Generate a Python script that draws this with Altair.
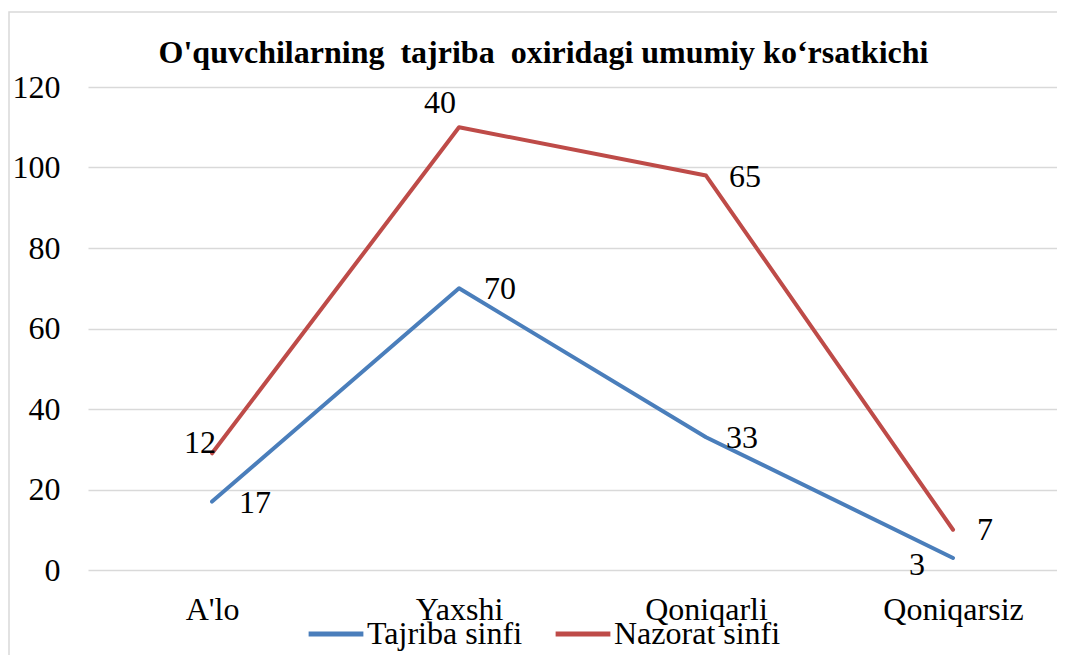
import altair as alt
import pandas as pd

categories = ["A'lo", "Yaxshi", "Qoniqarli", "Qoniqarsiz"]
tajriba = [17, 70, 33, 3]
nazorat = [12, 40, 65, 7]
series_names = ["Tajriba sinfi", "Nazorat sinfi"]
y_ticks = [0, 20, 40, 60, 80, 100, 120]

rows = []
for si, (name, vals) in enumerate(zip(series_names, [tajriba, nazorat])):
    for ci, (c, v) in enumerate(zip(categories, vals)):
        rows.append({"cat": c, "series": name, "value": v, "sidx": si, "cidx": ci})
df = pd.DataFrame(rows)

FONT = "Times New Roman, Liberation Serif, Tinos, DejaVu Serif, serif"
colors = ["#4A7EBB", "#BE4B48"]

base = alt.Chart(df).transform_stack(
    stack="value", groupby=["cat"], as_=["y0", "y1"],
    sort=[alt.SortField("sidx", order="ascending")]
)

x_scale = alt.Scale(type="point", padding=0.4616, align=0.544)

x_enc = alt.X(
    "cat:N", sort=categories, scale=x_scale,
    axis=alt.Axis(title=None, domain=False, ticks=False, labelFont=FONT,
                  labelFontSize=32, labelColor="black", labelPadding=24, labelAngle=0),
)
y_enc = alt.Y(
    "y1:Q", scale=alt.Scale(domain=[0, 120], nice=False),
    axis=alt.Axis(title=None, values=y_ticks, domain=False, ticks=False, grid=True,
                  gridColor="#D9D9D9", gridWidth=1.3, labelFont=FONT, labelFontSize=32,
                  labelColor="black", labelPadding=28),
)

lines = base.mark_line(strokeWidth=4, strokeCap="round", strokeJoin="round").encode(
    x=x_enc,
    y=y_enc,
    order=alt.Order("cidx:Q"),
    color=alt.Color(
        "series:N", sort=series_names,
        scale=alt.Scale(domain=series_names, range=colors),
        legend=alt.Legend(
            title=None, orient="none", legendX=218, legendY=517, direction="horizontal",
            symbolType="stroke", symbolSize=3000, symbolStrokeWidth=5, padding=0,
            labelFont=FONT, labelFontSize=32, labelColor="black", labelOffset=1,
            columnPadding=22, labelLimit=400,
        ),
    ),
)

# label offsets (styling only), keyed by series index and category index
offsets = {
    (0, 0): (43, 1), (0, 1): (41, 1), (0, 2): (36, 1), (0, 3): (-36, 7),
    (1, 0): (-12, -10), (1, 1): (-19, -24), (1, 2): (39, 1), (1, 3): (32, 0),
}
label_layers = []
for (si, ci), (dx, dy) in offsets.items():
    label_layers.append(
        base.transform_filter(
            (alt.datum.sidx == si) & (alt.datum.cidx == ci)
        ).mark_text(font=FONT, fontSize=32, color="black", align="center",
                    baseline="middle", dx=dx, dy=dy).encode(
            x=alt.X("cat:N", sort=categories, scale=x_scale),
            y=alt.Y("y1:Q"),
            text=alt.Text("value:Q"),
        )
    )

frame = alt.Chart(pd.DataFrame({"a": [0]})).mark_rect(
    fillOpacity=0, stroke="#D9D9D9", strokeWidth=1.5
).encode(x=alt.value(-79), x2=alt.value(990), y=alt.value(-75), y2=alt.value(620))

chart = alt.layer(frame, lines, *label_layers).properties(
    width=969, height=483, autosize="none",
    padding={"left": 80, "top": 79, "right": 0, "bottom": 85},
    title=alt.TitleParams(
        text="O'quvchilarning\u00a0 tajriba\u00a0 oxiridagi umumiy ko\u2018rsatkichi",
        font=FONT, fontSize=32, fontWeight="bold", color="black",
        anchor="middle", frame="group", dx=-29, offset=-84, baseline="alphabetic",
    ),
).configure_view(stroke=None)

chart.save("out.html", embed_options={"renderer": "svg", "actions": False})
